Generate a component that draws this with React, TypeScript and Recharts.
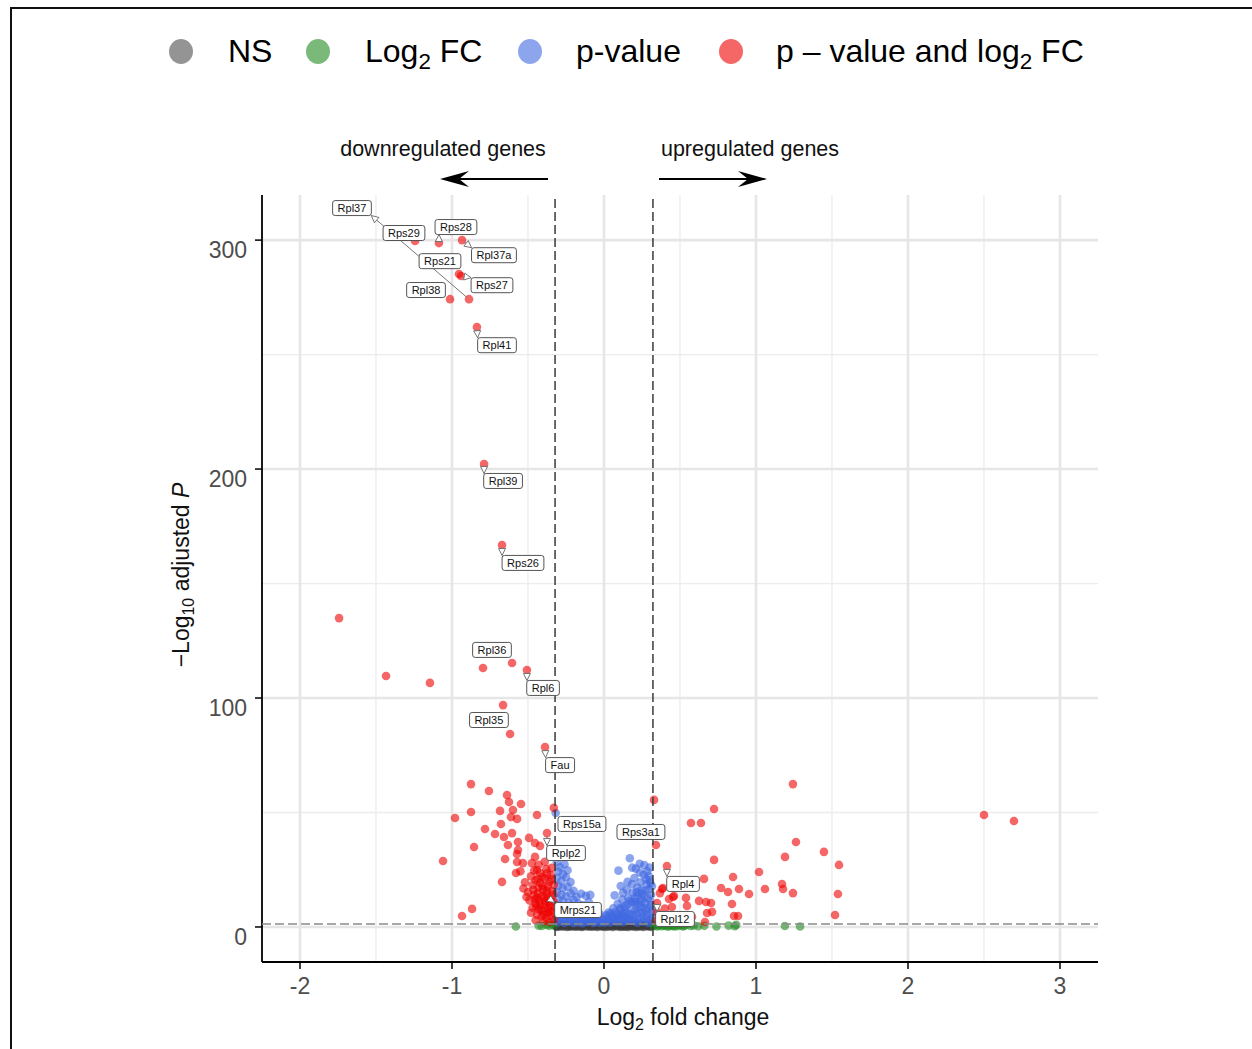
import React from "react";
import { ScatterChart, Scatter, XAxis, YAxis, ReferenceLine } from "recharts";

const FONT = '"Liberation Sans", Arial, Helvetica, sans-serif';

// axis breaks and limits
const xTicks = [-2, -1, 0, 1, 2, 3];
const xMinor = [-1.5, -0.5, 0.5, 1.5, 2.5];
const yTicks = [0, 100, 200, 300];
const yMinor = [50, 150, 250];
const xDomain: [number, number] = [-2.25, 3.25];
const yDomain: [number, number] = [-15.3, 319.7];

// cut-offs: |log2FC| > log2(1.25), padj < 0.05
const fcCut = 0.322;
const pCut = 1.3;

type Pt = [number, number];

// not significant
const nsPoints: Pt[] = [
  [-0.316, 0.4], [-0.309, 1.1], [-0.301, 0.2], [-0.294, 0.8], [-0.286, 0.5], [-0.279, 1.2],
  [-0.27, 0.1], [-0.262, 0.7], [-0.255, 1.0], [-0.247, 0.3], [-0.238, 0.9], [-0.231, 0.5],
  [-0.222, 1.2], [-0.214, 0.2], [-0.206, 0.6], [-0.197, 1.0], [-0.189, 0.4], [-0.181, 0.8],
  [-0.173, 0.1], [-0.165, 1.1], [-0.157, 0.5], [-0.148, 0.9], [-0.14, 0.3], [-0.131, 0.7],
  [-0.123, 1.2], [-0.115, 0.2], [-0.106, 0.8], [-0.098, 0.4], [-0.09, 1.0], [-0.081, 0.6],
  [-0.073, 0.1], [-0.065, 0.9], [-0.057, 0.5], [-0.048, 1.2], [-0.04, 0.3], [-0.031, 0.7],
  [-0.023, 1.0], [-0.015, 0.2], [-0.006, 0.6], [0.003, 1.1], [0.011, 0.4], [0.019, 0.8],
  [0.028, 0.1], [0.036, 0.9], [0.044, 0.5], [0.053, 1.2], [0.061, 0.3], [0.07, 0.7],
  [0.078, 1.0], [0.086, 0.2], [0.095, 0.6], [0.103, 1.1], [0.111, 0.4], [0.12, 0.8],
  [0.128, 0.1], [0.137, 0.9], [0.145, 0.5], [0.153, 1.2], [0.162, 0.3], [0.17, 0.7],
  [0.178, 1.0], [0.187, 0.2], [0.195, 0.6], [0.204, 1.1], [0.212, 0.4], [0.22, 0.8],
  [0.229, 0.1], [0.237, 0.9], [0.246, 0.5], [0.254, 1.2], [0.262, 0.3], [0.271, 0.7],
  [0.279, 1.0], [0.288, 0.2], [0.296, 0.6], [0.305, 1.1], [0.313, 0.4], [0.319, 0.8],
  [-0.312, 0.0], [-0.291, 0.3], [-0.268, 0.9], [-0.243, 0.0], [-0.219, 0.7], [-0.193, 0.1],
  [-0.168, 0.6], [-0.144, 0.0], [-0.119, 0.9], [-0.094, 0.1], [-0.069, 0.4], [-0.044, 0.0],
  [-0.019, 0.8], [0.007, 0.0], [0.032, 0.5], [0.057, 0.0], [0.082, 0.7], [0.107, 0.0],
  [0.132, 0.4], [0.158, 0.0], [0.183, 0.5], [0.208, 0.0], [0.233, 0.6], [0.258, 0.0],
  [0.283, 0.5], [0.309, 0.0], [0.317, 0.9], [-0.306, 0.6], [-0.226, 0.2], [-0.152, 0.3],
  [-0.086, 1.1], [-0.011, 0.3], [0.065, 1.0], [0.141, 0.2], [0.216, 1.2], [0.292, 0.9],
];

// fold change only
const fcPoints: Pt[] = [
  [-0.58, 0.2], [-0.43, 0.6], [-0.41, 0.4], [-0.38, 0.9], [-0.36, 0.5], [-0.345, 1.1], [-0.33, 0.7],
  [0.33, 0.4], [0.34, 0.9], [0.35, 0.2], [0.36, 0.7], [0.37, 1.1], [0.38, 0.3], [0.39, 0.8],
  [0.4, 0.5], [0.41, 1.0], [0.42, 0.1], [0.43, 0.6], [0.44, 0.9], [0.45, 0.3], [0.46, 0.7],
  [0.47, 0.2], [0.48, 1.0], [0.49, 0.5], [0.51, 0.8], [0.52, 0.2], [0.53, 0.6], [0.55, 1.1],
  [0.57, 0.4], [0.59, 0.7], [0.62, 0.3], [0.66, 0.5], [0.74, 0.2], [0.82, 0.6], [0.86, 0.3],
  [0.87, 0.9], [1.19, 0.4], [1.29, 0.2],
];

// p-value only
const pPoints: Pt[] = [
  [-0.318, 49.8],
  [-0.31, 28.3], [-0.29, 26.1], [-0.26, 27.4], [-0.3, 24.2], [-0.27, 23.0], [-0.24, 24.8],
  [-0.31, 21.5], [-0.28, 20.1], [-0.25, 21.7], [-0.22, 19.6], [-0.3, 18.0], [-0.27, 16.9],
  [-0.24, 17.6], [-0.2, 15.8], [-0.31, 15.1], [-0.28, 14.2], [-0.25, 13.4], [-0.22, 14.6],
  [-0.18, 13.1], [-0.15, 14.5], [-0.12, 13.6], [-0.09, 14.0], [-0.3, 12.0], [-0.27, 11.2],
  [-0.23, 10.7], [-0.2, 11.9], [-0.17, 10.2], [-0.14, 9.6], [-0.1, 10.9], [-0.07, 8.8],
  [-0.31, 9.3], [-0.28, 8.4], [-0.25, 7.8], [-0.21, 8.9], [-0.18, 7.3], [-0.15, 6.9],
  [-0.12, 7.8], [-0.09, 6.2], [-0.05, 7.1], [-0.3, 6.5], [-0.27, 5.6], [-0.23, 6.0],
  [-0.2, 5.1], [-0.16, 4.8], [-0.13, 5.5], [-0.1, 4.2], [-0.06, 4.9], [-0.03, 5.8],
  [-0.31, 4.1], [-0.28, 3.3], [-0.25, 4.4], [-0.22, 3.0], [-0.19, 3.7], [-0.16, 2.6],
  [-0.12, 3.2], [-0.08, 2.7], [-0.04, 3.4], [-0.01, 2.4], [-0.3, 2.1], [-0.26, 1.8],
  [-0.23, 2.3], [-0.2, 1.7], [-0.17, 2.0], [-0.14, 1.6], [-0.11, 2.2], [-0.07, 1.8], [-0.03, 1.9],
  [0.02, 3.1], [0.05, 4.6], [0.04, 2.0], [0.07, 2.8], [0.08, 5.7], [0.1, 3.6], [0.11, 7.4],
  [0.12, 2.1], [0.13, 4.9], [0.14, 9.2], [0.15, 6.3], [0.16, 3.0], [0.17, 11.4], [0.18, 7.9],
  [0.19, 5.2], [0.2, 2.4], [0.21, 9.8], [0.22, 13.7], [0.23, 6.6], [0.24, 3.8], [0.25, 11.2],
  [0.26, 8.3], [0.27, 15.9], [0.28, 5.1], [0.29, 12.6], [0.3, 2.7], [0.31, 9.5], [0.315, 17.8],
  [0.3, 20.4], [0.28, 18.6], [0.26, 22.9], [0.285, 24.3], [0.3, 26.0], [0.265, 27.0],
  [0.235, 27.6], [0.17, 30.0], [0.095, 24.6], [0.185, 25.9], [0.2, 21.4], [0.24, 19.5],
  [0.22, 17.2], [0.15, 16.3], [0.11, 17.9], [0.19, 15.0], [0.25, 14.6], [0.31, 14.1],
  [0.16, 12.7], [0.12, 12.0], [0.07, 13.8], [0.09, 10.1], [0.13, 8.6], [0.2, 11.0],
  [0.27, 10.4], [0.31, 6.0], [0.26, 4.5], [0.23, 10.0], [0.06, 8.1], [0.03, 6.3],
  [0.09, 4.1], [0.14, 2.5], [0.22, 1.9], [0.29, 1.8], [0.255, 6.1], [0.285, 8.2],
  [0.17, 4.0], [0.205, 7.1], [0.115, 5.4], [0.025, 4.7],
  // dense low band
  [-0.305, 2.9], [-0.285, 5.0], [-0.265, 3.9], [-0.245, 2.6], [-0.235, 5.2], [-0.215, 4.1],
  [-0.195, 2.5], [-0.185, 6.0], [-0.165, 3.4], [-0.145, 4.4], [-0.135, 2.3], [-0.115, 5.0],
  [-0.095, 3.0], [-0.085, 5.3], [-0.065, 2.3], [-0.055, 3.9], [-0.035, 2.8], [-0.025, 4.3],
  [-0.005, 3.3], [0.005, 1.9], [0.015, 5.2], [0.035, 3.8], [0.045, 5.9], [0.055, 2.5],
  [0.065, 4.0], [0.075, 6.6], [0.085, 2.2], [0.095, 5.1], [0.105, 8.3], [0.125, 3.3],
  [0.135, 6.0], [0.145, 4.0], [0.155, 9.8], [0.165, 5.6], [0.175, 2.6], [0.185, 10.9],
  [0.195, 3.5], [0.205, 12.6], [0.215, 5.9], [0.225, 3.0], [0.235, 8.8], [0.245, 12.3],
  [0.255, 2.3], [0.265, 13.6], [0.275, 7.2], [0.285, 3.4], [0.295, 16.4], [0.305, 11.3],
  [0.315, 4.3], [0.315, 7.6], [0.305, 19.1], [0.275, 20.9], [0.245, 16.0], [0.295, 22.1],
  [0.215, 15.2], [0.185, 18.8], [0.155, 19.7], [0.125, 14.9], [0.235, 23.8], [0.21, 25.5],
];

// p-value and fold change
const bothPoints: Pt[] = [
  [-0.888, 274.2], [-1.243, 299.6], [-1.086, 298.7], [-0.934, 300.0], [-0.954, 285.2],
  [-0.941, 284.3], [-1.013, 274.2], [-0.836, 262.0], [-0.789, 202.2], [-0.671, 166.8],
  [-1.743, 134.9], [-1.434, 109.6], [-1.145, 106.6], [-0.796, 113.1], [-0.605, 115.3],
  [-0.507, 112.2], [-0.664, 96.9], [-0.618, 84.3], [-0.388, 78.6],
  [-0.875, 62.4], [-0.757, 59.4], [-0.638, 57.6], [-0.625, 54.6], [-0.546, 53.7],
  [-0.875, 50.2], [-0.98, 47.6], [-0.684, 50.7], [-0.599, 51.1], [-0.612, 48.0],
  [-0.572, 47.2], [-0.441, 48.9], [-0.33, 52.0], [-0.678, 45.0], [-0.783, 42.8],
  [-0.717, 40.6], [-0.658, 39.3], [-0.605, 41.0], [-0.493, 38.9], [-0.375, 41.0],
  [-0.566, 37.1], [-0.632, 35.8], [-0.454, 36.7], [-0.421, 35.4], [-0.855, 34.9],
  [-0.566, 33.6], [-0.572, 31.9], [-0.651, 29.7], [-0.572, 28.4], [-0.533, 27.9],
  [-1.059, 28.8], [-0.474, 27.9], [-0.454, 30.6], [-0.579, 23.6], [-0.441, 24.9],
  [-0.671, 19.7], [-0.934, 4.8], [-0.868, 7.9], [-0.368, 6.1], [-0.368, 12.7],
  [-0.48, 22.1], [-0.45, 20.4], [-0.42, 23.5], [-0.39, 21.2], [-0.36, 19.8], [-0.47, 18.3],
  [-0.43, 17.1], [-0.4, 16.4], [-0.37, 17.9], [-0.34, 15.6], [-0.5, 15.2], [-0.46, 14.0],
  [-0.44, 12.7], [-0.41, 13.5], [-0.38, 14.8], [-0.35, 12.2], [-0.49, 11.6], [-0.45, 10.3],
  [-0.42, 9.7], [-0.39, 11.1], [-0.36, 9.2], [-0.33, 10.8], [-0.47, 8.4], [-0.43, 7.6],
  [-0.4, 6.9], [-0.37, 8.1], [-0.34, 6.4], [-0.44, 5.3], [-0.41, 4.6], [-0.38, 3.9],
  [-0.35, 4.8], [-0.42, 19.2], [-0.46, 24.6], [-0.38, 25.3], [-0.35, 22.7], [-0.33, 18.4],
  [-0.52, 19.5], [-0.51, 13.1], [-0.48, 6.2], [-0.45, 2.9], [-0.4, 2.5], [-0.36, 2.2],
  [-0.33, 3.1], [-0.55, 24.3], [-0.53, 16.8], [-0.39, 28.5], [-0.43, 27.2],
  [-0.465, 16.2], [-0.435, 14.9], [-0.405, 18.0], [-0.375, 16.0], [-0.345, 20.9],
  [-0.455, 12.1], [-0.425, 11.4], [-0.395, 13.0], [-0.365, 10.9], [-0.335, 14.0],
  [-0.445, 8.9], [-0.415, 7.8], [-0.385, 9.9], [-0.355, 7.2], [-0.325, 8.5],
  [-0.405, 21.9], [-0.375, 23.4], [-0.345, 25.8], [-0.435, 21.0], [-0.395, 5.5],
  [1.243, 62.4], [0.724, 51.5], [0.572, 45.4], [0.638, 45.4], [1.263, 37.1], [1.191, 30.6],
  [1.447, 32.8], [1.546, 27.1], [0.724, 29.3], [1.02, 24.0], [0.849, 21.8], [0.658, 21.0],
  [1.171, 18.8], [0.77, 17.0], [0.816, 15.3], [0.888, 16.6], [0.954, 14.4], [1.059, 16.6],
  [1.178, 16.6], [1.243, 14.8], [1.539, 14.4], [0.382, 16.6], [0.329, 55.5], [0.342, 35.8],
  [0.414, 26.6], [0.428, 12.2], [0.461, 13.5], [0.539, 12.7], [0.625, 11.4], [0.671, 10.9],
  [0.704, 10.5], [0.842, 10.0], [0.711, 6.6], [0.678, 6.1], [0.855, 4.8], [0.882, 4.8],
  [1.52, 5.2], [0.546, 9.2], [0.447, 8.7], [0.579, 4.4], [0.664, 2.2], [0.368, 14.8],
  [0.388, 17.0], [0.454, 13.1], [0.349, 10.5], [0.35, 6.5], [0.37, 3.8], [0.34, 2.6],
  [0.4, 8.0], [2.5, 48.9], [2.697, 46.3],
];

// labelled genes: name, log2FC, -log10 padj, label x, label y
const labelledGenes: [string, number, number, number, number][] = [
  ["Rpl37", -0.888, 274.2, -1.658, 314.0],
  ["Rps29", -1.243, 299.6, -1.316, 303.1],
  ["Rps28", -1.086, 298.7, -0.974, 305.7],
  ["Rpl37a", -0.934, 300.0, -0.724, 293.4],
  ["Rps21", -0.954, 285.2, -1.079, 290.8],
  ["Rps27", -0.941, 284.3, -0.737, 280.3],
  ["Rpl38", -1.013, 274.2, -1.171, 278.2],
  ["Rpl41", -0.836, 262.0, -0.704, 254.1],
  ["Rpl39", -0.789, 202.2, -0.664, 194.8],
  ["Rps26", -0.671, 166.8, -0.533, 159.0],
  ["Rpl36", -0.605, 115.3, -0.737, 121.0],
  ["Rpl6", -0.507, 112.2, -0.401, 104.4],
  ["Rpl35", -0.664, 96.9, -0.757, 90.4],
  ["Fau", -0.388, 78.6, -0.289, 70.7],
  ["Rps15a", -0.318, 49.8, -0.145, 45.0],
  ["Rplp2", -0.375, 41.0, -0.25, 32.3],
  ["Rps3a1", 0.342, 35.8, 0.243, 41.5],
  ["Rpl4", 0.414, 26.6, 0.52, 18.8],
  ["Mrps21", -0.368, 12.7, -0.171, 7.4],
  ["Rpl12", 0.349, 10.5, 0.467, 3.5],
];

const groups = [
  { key: "NS", color: "#3a3a3a", points: nsPoints },
  { key: "FC", color: "#228B22", points: fcPoints },
  { key: "P", color: "#4169E1", points: pPoints },
  { key: "P_FC", color: "#EE0000", points: bothPoints },
];

const ALPHA = 0.6;

const charW: Record<string, number> = {
  R: 0.722, M: 0.833, F: 0.611, p: 0.556, s: 0.5, l: 0.222, a: 0.556, u: 0.556, i: 0.222, r: 0.333,
};
const tagWidth = (s: string) =>
  s.split("").reduce((w, c) => w + (charW[c] ?? 0.556), 0) * 11 + 10;

const dotShape = (color: string) => (p: any) =>
  <circle cx={p.cx} cy={p.cy} r={4.3} fill={color} fillOpacity={ALPHA} />;

// ggrepel-ish label: box at the label end, segment + open arrow from the point
const tagShape = (name: string) => (p: any) => {
  const { x1, y1, x2, y2 } = p;
  const w = tagWidth(name);
  const h = 15;
  const left = x2 - w / 2;
  const top = y2 - h / 2;
  const ex = Math.min(Math.max(x1, left), left + w);
  const ey = Math.min(Math.max(y1, top), top + h);
  const len = Math.hypot(ex - x1, ey - y1);
  let connector = null;
  if (len > 8) {
    const ux = (ex - x1) / len;
    const uy = (ey - y1) / len;
    const bx = ex - ux * 7;
    const by = ey - uy * 7;
    const nx = -uy * 3.5;
    const ny = ux * 3.5;
    connector = (
      <g>
        <line x1={x1 + ux * 3} y1={y1 + uy * 3} x2={ex} y2={ey} stroke="#666" strokeWidth={0.9} />
        <polygon
          points={`${ex},${ey} ${bx + nx},${by + ny} ${bx - nx},${by - ny}`}
          fill="#fff"
          stroke="#666"
          strokeWidth={0.9}
        />
      </g>
    );
  }
  return (
    <g>
      {connector}
      <rect x={left} y={top} width={w} height={h} rx={2.5} fill="#fff" stroke="#555" strokeWidth={1} />
      <text x={x2} y={y2 + 4} textAnchor="middle" fontSize={11} fontFamily={FONT} fill="#111">
        {name}
      </text>
    </g>
  );
};

const XTick = (p: any) => (
  <text x={p.x} y={p.y + 23} textAnchor="middle" fontSize={23} fontFamily={FONT} fill="#4d4d4d">
    {p.payload.value}
  </text>
);

const YTick = (p: any) => (
  <text x={p.x - 6} y={p.y + 18} textAnchor="end" fontSize={23} fontFamily={FONT} fill="#4d4d4d">
    {p.payload.value}
  </text>
);

function Sub({ children }: { children: React.ReactNode }) {
  return <span style={{ fontSize: "0.7em", position: "relative", top: "0.3em" }}>{children}</span>;
}

const legendItems = [
  { color: "#4D4D4D", cx: 181, tx: 228, label: <>NS</> },
  { color: "#228B22", cx: 318, tx: 365, label: <>Log<Sub>2</Sub> FC</> },
  { color: "#4169E1", cx: 530, tx: 576, label: <>p-value</> },
  { color: "#EE0000", cx: 731, tx: 776, label: <>p – value and log<Sub>2</Sub> FC</> },
];

export default function App() {
  return (
    <div
      style={{
        position: "absolute",
        left: 0,
        top: 0,
        width: 1252,
        height: 1049,
        background: "#fff",
        overflow: "hidden",
        fontFamily: FONT,
      }}
    >
      {/* outer frame (only top and left edges fall inside the picture) */}
      <div
        style={{
          position: "absolute",
          left: 10,
          top: 7,
          width: 1400,
          height: 1200,
          borderTop: "2px solid #111",
          borderLeft: "2px solid #111",
        }}
      />

      {/* legend */}
      {legendItems.map((it, i) => (
        <React.Fragment key={i}>
          <div
            style={{
              position: "absolute",
              left: it.cx - 12,
              top: 51 - 12.5,
              width: 24,
              height: 25,
              borderRadius: "50%",
              background: it.color,
              opacity: ALPHA,
            }}
          />
          <div
            style={{
              position: "absolute",
              left: it.tx,
              top: 31,
              height: 40,
              lineHeight: "40px",
              fontSize: 32,
              color: "#000",
              whiteSpace: "nowrap",
            }}
          >
            {it.label}
          </div>
        </React.Fragment>
      ))}

      <div style={{ position: "absolute", left: 0, top: 0 }}>
        <ScatterChart width={1252} height={1049} margin={{ top: 195, right: 154, bottom: 27, left: 202 }}>
          <XAxis
            type="number"
            dataKey="x"
            domain={xDomain}
            ticks={xTicks}
            allowDataOverflow
            height={60}
            tickSize={7}
            tickMargin={2}
            tick={XTick}
            axisLine={{ stroke: "#000", strokeWidth: 1.8 }}
            tickLine={{ stroke: "#000", strokeWidth: 1.5 }}
          />
          <YAxis
            type="number"
            dataKey="y"
            domain={yDomain}
            ticks={yTicks}
            allowDataOverflow
            width={60}
            tickSize={7}
            tickMargin={2}
            tick={YTick}
            axisLine={{ stroke: "#000", strokeWidth: 1.8 }}
            tickLine={{ stroke: "#000", strokeWidth: 1.5 }}
          />

          {xMinor.map((v) => (
            <ReferenceLine key={`xm${v}`} x={v} stroke="#ececec" strokeWidth={1.3} zIndex={-90} />
          ))}
          {yMinor.map((v) => (
            <ReferenceLine key={`ym${v}`} y={v} stroke="#ececec" strokeWidth={1.3} zIndex={-90} />
          ))}
          {xTicks.map((v) => (
            <ReferenceLine key={`xM${v}`} x={v} stroke="#e6e6e6" strokeWidth={2.6} zIndex={-80} />
          ))}
          {yTicks.map((v) => (
            <ReferenceLine key={`yM${v}`} y={v} stroke="#e6e6e6" strokeWidth={2.6} zIndex={-80} />
          ))}

          {groups.map((g) => (
            <Scatter
              key={g.key}
              name={g.key}
              data={g.points.map(([x, y]) => ({ x, y }))}
              shape={dotShape(g.color)}
              isAnimationActive={false}
            />
          ))}

          <ReferenceLine x={-fcCut} stroke="#3a3a3a" strokeWidth={1.5} strokeDasharray="9 4" zIndex={700} />
          <ReferenceLine x={fcCut} stroke="#3a3a3a" strokeWidth={1.5} strokeDasharray="9 4" zIndex={700} />
          <ReferenceLine y={pCut} stroke="#8a8a8a" strokeWidth={1.5} strokeDasharray="9 4" zIndex={700} />

          {labelledGenes.map(([name, x, y, lx, ly]) => (
            <ReferenceLine
              key={name}
              segment={[{ x, y }, { x: lx, y: ly }]}
              shape={tagShape(name)}
              zIndex={800}
            />
          ))}
        </ScatterChart>
      </div>

      {/* annotations and axis titles */}
      <svg
        width={1252}
        height={1049}
        style={{ position: "absolute", left: 0, top: 0, pointerEvents: "none" }}
        fontFamily={FONT}
      >
        <text x={443} y={156} textAnchor="middle" fontSize={21.5} fill="#111">
          downregulated genes
        </text>
        <line x1={548} y1={179} x2={456} y2={179} stroke="#000" strokeWidth={2} />
        <polygon points="440,179 469,171 459,179 469,187" fill="#000" />
        <text x={750} y={156} textAnchor="middle" fontSize={21.5} fill="#111">
          upregulated genes
        </text>
        <line x1={659} y1={179} x2={751} y2={179} stroke="#000" strokeWidth={2} />
        <polygon points="767,179 738,171 748,179 738,187" fill="#000" />

        <text x={683} y={1025} textAnchor="middle" fontSize={23} fill="#111">
          Log<tspan fontSize={16} dy={5}>2</tspan>
          <tspan dy={-5}> fold change</tspan>
        </text>
        <text transform="translate(189,575) rotate(-90)" textAnchor="middle" fontSize={23} fill="#111">
          −Log<tspan fontSize={16} dy={5}>10</tspan>
          <tspan dy={-5}> adjusted </tspan>
          <tspan fontStyle="italic">P</tspan>
        </text>
      </svg>
    </div>
  );
}
